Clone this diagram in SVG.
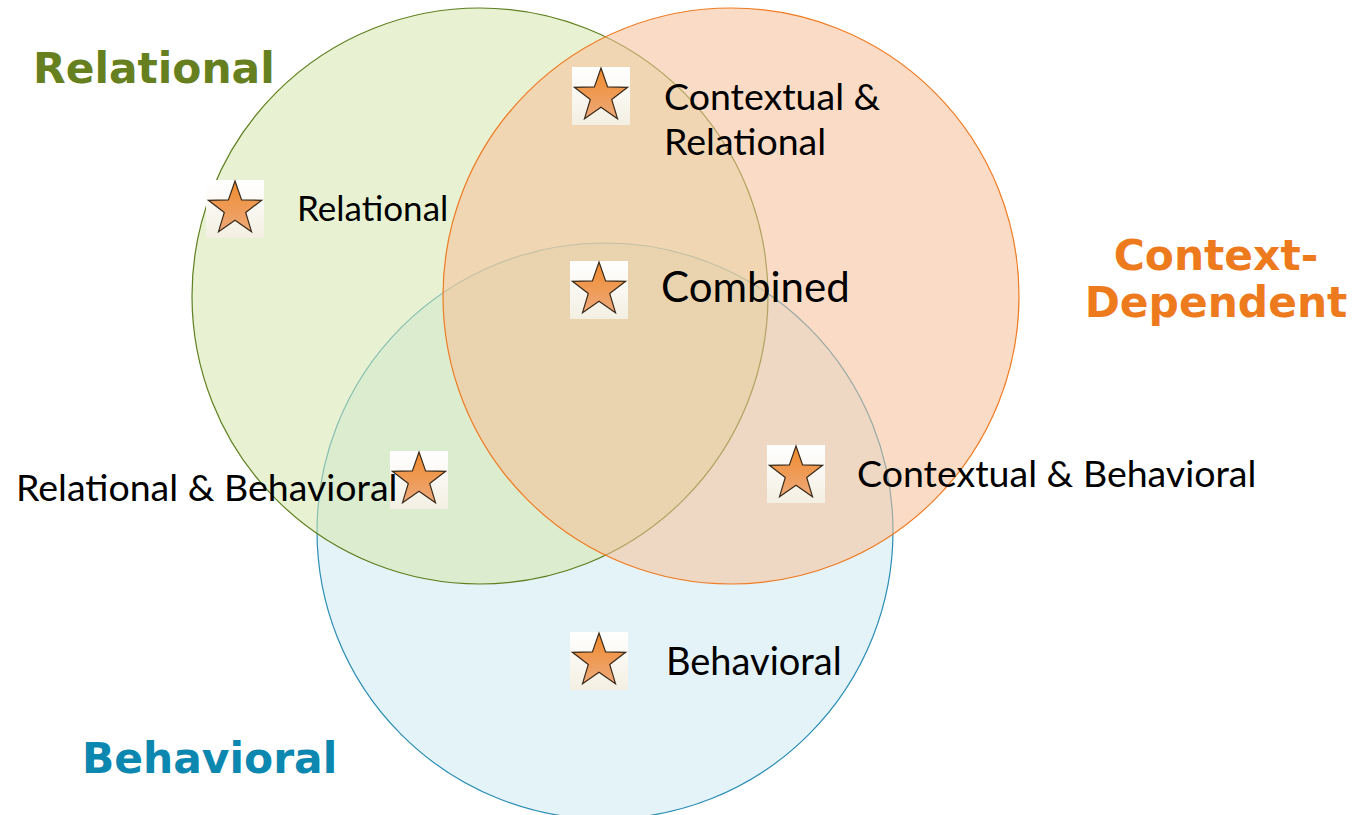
<svg xmlns="http://www.w3.org/2000/svg" width="1353" height="815" viewBox="0 0 1353 815">
<defs>
<linearGradient id="bg" x1="0" y1="0" x2="0" y2="1"><stop offset="0" stop-color="#ffffff"/><stop offset="1" stop-color="#f3efe2"/></linearGradient>
<linearGradient id="sg" x1="0" y1="0" x2="0" y2="1"><stop offset="0" stop-color="#f08a2c"/><stop offset="1" stop-color="#eda97a"/></linearGradient>
<g id="star">
<rect x="-29" y="-29" width="58" height="58" fill="url(#bg)"/>
<polygon points="0,-28 6.6,-9.1 26.6,-8.7 10.7,3.5 16.5,22.7 0,11.3 -16.5,22.7 -10.7,3.5 -26.6,-8.7 -6.6,-9.1" fill="url(#sg)" stroke="#3a2a1a" stroke-width="1.2" stroke-linejoin="miter"/>
</g>
</defs>
<style>
.lbl{font-family:Lato,"Liberation Sans",sans-serif;fill:#000}
.ttl{font-family:"DejaVu Sans",sans-serif;font-weight:bold;font-size:42.4px}
</style>
<rect width="1353" height="815" fill="#ffffff"/>
<g id="sets">
<circle id="set-behavioral" cx="605" cy="531" r="288" fill="#e4f3f8" stroke="#2a8db5" stroke-width="1.2"/>
<circle id="set-relational" cx="480" cy="296" r="288" fill="#d5e7ad" fill-opacity="0.55" stroke="#5f7f1f" stroke-width="1.2"/>
<circle id="set-context" cx="731" cy="296" r="288" fill="#f6bf97" fill-opacity="0.55" stroke="#ef7b22" stroke-width="1.2"/>
</g>
<g id="titles">
<text class="ttl" x="33" y="83" fill="#66801f">Relational</text>
<text class="ttl" x="1216" y="270" fill="#ee7a1e" text-anchor="middle">Context-</text>
<text class="ttl" x="1216" y="317" fill="#ee7a1e" text-anchor="middle">Dependent</text>
<text class="ttl" x="82" y="773" fill="#0b87b0">Behavioral</text>
</g>
<g id="node-relational"><use href="#star" x="235" y="209"/><text class="lbl" x="297" y="221" font-size="35">Relational</text></g>
<g id="node-ctx-rel"><use href="#star" x="601" y="96"/><text class="lbl" x="664" y="110" font-size="37.5">Contextual &amp;</text><text class="lbl" x="664" y="155" font-size="37.5">Relational</text></g>
<g id="node-combined"><use href="#star" x="599" y="290"/><text class="lbl" x="661" y="302" font-size="42">Combined</text></g>
<g id="node-rel-beh"><use href="#star" x="419" y="480"/><text class="lbl" x="16" y="501" font-size="37.5">Relational &amp; Behavioral</text></g>
<g id="node-ctx-beh"><use href="#star" x="796" y="474"/><text class="lbl" x="857" y="487" font-size="37.5">Contextual &amp; Behavioral</text></g>
<g id="node-behavioral"><use href="#star" x="599" y="661"/><text class="lbl" x="666" y="675" font-size="38">Behavioral</text></g>
</svg>
